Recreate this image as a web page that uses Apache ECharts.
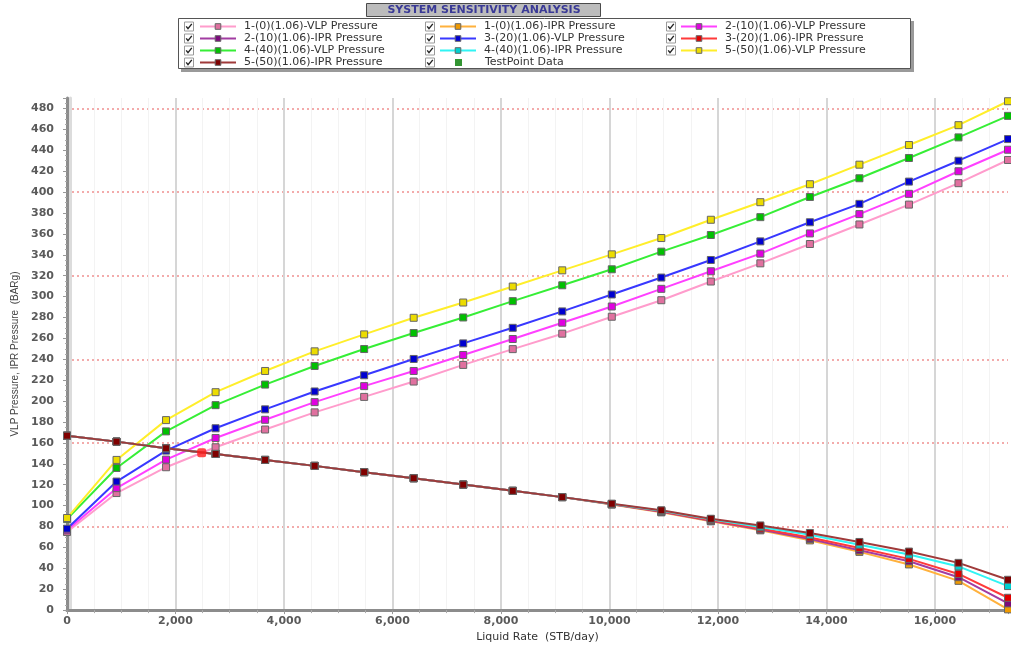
<!DOCTYPE html>
<html>
<head>
<meta charset="utf-8">
<script src="https://cdn.jsdelivr.net/npm/echarts@6/dist/echarts.min.js"></script>
<style>
html,body{margin:0;padding:0;background:#fff;}
#chart{width:1011px;height:648px;}
</style>
</head>
<body>
<div id="chart"></div>
<script>
// ---- data ----
const liquidRate = [0, 913, 1826, 2739, 3652, 4565, 5478, 6391, 7304, 8217, 9130, 10043, 10956, 11869, 12782, 13695, 14608, 15521, 16434, 17347];

const vlp1 = [74.7, 112, 136.7, 155.8, 172.8, 189.2, 204, 218.7, 234.6, 249.7, 264.5, 280.7, 296.5, 314.4, 331.8, 350.3, 369, 388, 408.5, 430.7];
const vlp2 = [76.3, 116.7, 144, 164.7, 182.1, 199, 214.3, 228.8, 244.1, 259.4, 275, 290.5, 307.4, 324.2, 341.1, 360.4, 378.9, 398.3, 419.9, 440.5];
const vlp3 = [77.9, 123, 152.6, 174, 192.1, 209.2, 224.7, 240.3, 255.2, 270.1, 285.8, 302, 318.2, 335, 352.8, 371.1, 388.7, 410, 430, 450.7];
const vlp4 = [87, 136, 171, 196.1, 215.8, 233.6, 249.8, 265.1, 280, 295.6, 310.8, 326.1, 343, 358.9, 376, 395.3, 413.2, 432.6, 452.3, 472.9];
const vlp5 = [88.1, 143.7, 181.8, 208.5, 228.8, 247.6, 263.8, 279.7, 294.3, 309.6, 325.1, 340.4, 356, 373.5, 390.3, 407.5, 426.2, 445, 464, 486.9];

const ipr1 = [166.9, 161.2, 154.8, 149.4, 143.7, 138, 132, 126.2, 120.1, 114.1, 108.1, 101, 93.5, 84.9, 76.3, 66.7, 55.7, 43.7, 28, 0.7];
const ipr2 = [166.9, 161.2, 154.8, 149.4, 143.7, 138, 132, 126.2, 120.1, 114.1, 108.1, 101.2, 94, 85.4, 77, 68, 57.2, 46.7, 31.5, 6.4];
const ipr3 = [166.9, 161.2, 154.8, 149.4, 143.7, 138, 132, 126.2, 120.1, 114.1, 108.1, 101.4, 94.5, 86, 78, 69.5, 59.5, 49, 34.6, 11.8];
const ipr4 = [166.9, 161.2, 154.8, 149.4, 143.7, 138, 132, 126.2, 120.1, 114.1, 108.1, 101.6, 95, 86.8, 79.5, 72, 62.6, 53.2, 41.8, 23];
const ipr5 = [166.9, 161.2, 154.8, 149.4, 143.7, 138, 132, 126.2, 120.1, 114.1, 108.1, 101.8, 95.5, 87.4, 81, 73.8, 65.2, 56, 45.2, 29];

const testPointData = [];
const operatingPoint = [[2483, 150.5]];

const seriesNames = [
  '1-(0)(1.06)-VLP Pressure', '1-(0)(1.06)-IPR Pressure', '2-(10)(1.06)-VLP Pressure',
  '2-(10)(1.06)-IPR Pressure', '3-(20)(1.06)-VLP Pressure', '3-(20)(1.06)-IPR Pressure',
  '4-(40)(1.06)-VLP Pressure', '4-(40)(1.06)-IPR Pressure', '5-(50)(1.06)-VLP Pressure',
  '5-(50)(1.06)-IPR Pressure'
];
const testPointName = 'TestPoint Data';
const titleText = 'SYSTEM SENSITIVITY ANALYSIS';
const xAxisName = 'Liquid Rate  (STB/day)';
const yAxisName = 'VLP Pressure, IPR Pressure  (BARg)';

// ---- styling ----
const seriesValues = [vlp1, ipr1, vlp2, ipr2, vlp3, ipr3, vlp4, ipr4, vlp5, ipr5];
const lineColors = ['#ff9ccc', '#ffb13d', '#ff40ff', '#a23ca2', '#3838ff', '#ff3a3a', '#36ee36', '#30f4f4', '#ffee2a', '#a03a3a'];
const markColors = ['#e0709f', '#f09a00', '#e000e0', '#7c0a7c', '#0000d0', '#e00000', '#00c000', '#00d0d0', '#ecdc00', '#800000'];

const FONT = 'DejaVu Sans';
const series = seriesValues.map((vals, k) => ({
  name: seriesNames[k],
  type: 'line',
  data: liquidRate.map((x, i) => [x, vals[i]]),
  symbol: 'rect',
  symbolSize: 7,
  showAllSymbol: true,
  z: 3,
  lineStyle: { color: lineColors[k], width: 2 },
  itemStyle: { color: markColors[k], borderColor: '#666', borderWidth: 1 },
  emphasis: { disabled: true },
  animation: false
}));
series.push({
  name: testPointName, type: 'scatter', data: testPointData, symbol: 'rect', symbolSize: 7,
  itemStyle: { color: '#007a00', borderColor: '#007a00' }, animation: false
});
series.push({
  name: 'op', type: 'scatter', data: operatingPoint, symbol: 'roundRect', symbolSize: 9, z: 5,
  itemStyle: { color: '#ff1a1a' }, animation: false, silent: true
});

// Legend columns
const rowTop = 20.5, rowPitch = 12;
const colIconLeft = [199, 439, 680];
const colCheck = [189, 430, 671];
const cols = [[0, 3, 6, 9], [1, 4, 7], [2, 5, 8]];
const legends = cols.map((idxs, c) => ({
  orient: 'vertical', left: colIconLeft[c], top: rowTop, padding: 0, itemGap: 0,
  itemWidth: 36, itemHeight: 7, selectedMode: false,
  itemStyle: { borderColor: '#666', borderWidth: 1 },
  data: idxs.map(i => seriesNames[i]),
  textStyle: { fontFamily: FONT, fontSize: 11, color: '#333', lineHeight: rowPitch, padding: [0, 0, 0, 3] }
}));
legends.push({
  orient: 'vertical', left: 455, top: rowTop + 3 * rowPitch, padding: 0, itemGap: 0,
  itemWidth: 7, itemHeight: 7, selectedMode: false, data: [testPointName],
  textStyle: { fontFamily: FONT, fontSize: 11, color: '#333', lineHeight: rowPitch, padding: [0, 0, 0, 18] }
});

// graphics: title box, legend frame, checkboxes
const graphics = [
  { type: 'rect', shape: { x: 181, y: 21, width: 733, height: 51 }, style: { fill: '#9a9a9a' }, z: 0 },
  { type: 'rect', shape: { x: 178.5, y: 18.5, width: 732, height: 50 }, style: { fill: '#fff', stroke: '#555', lineWidth: 1 }, z: 1 },
  { type: 'rect', shape: { x: 366.5, y: 3.5, width: 234, height: 13 }, style: { fill: '#bcbcbc', stroke: '#4a4a4a', lineWidth: 1 }, z: 1 },
  { type: 'text', x: 484, y: 10.5, style: { text: titleText, fontFamily: FONT, fontSize: 11, fontWeight: 'bold', fill: '#3a3a96', align: 'center', verticalAlign: 'middle' }, z: 2 }
];
const checkRows = [4, 4, 3];
colCheck.forEach((cx, c) => {
  for (let r = 0; r < checkRows[c]; r++) {
    const cy = rowTop + r * rowPitch + rowPitch / 2;
    graphics.push({ type: 'rect', shape: { x: cx - 4.5, y: cy - 4.5, width: 9, height: 9 }, style: { fill: '#fff', stroke: '#9a9a9a', lineWidth: 1 }, z: 2 });
    graphics.push({ type: 'polyline', shape: { points: [[cx - 2.8, cy - 0.2], [cx - 1, cy + 2.2], [cx + 2.8, cy - 2.6]] }, style: { fill: null, stroke: '#222', lineWidth: 1.4 }, z: 3 });
  }
});

const chart = echarts.init(document.getElementById('chart'), null, { renderer: 'canvas' });
chart.setOption({
  animation: false,
  backgroundColor: '#fff',
  grid: { left: 67, right: 3, top: 98, bottom: 36, containLabel: false },
  legend: legends,
  graphic: graphics,
  xAxis: {
    type: 'value', min: 0, max: 17347, interval: 2000,
    name: xAxisName, nameLocation: 'middle', nameGap: 18,
    nameTextStyle: { fontFamily: FONT, fontSize: 11, color: '#333' },
    axisLine: { lineStyle: { color: '#8c8c8c', width: 3 } },
    axisTick: { show: true, length: 4, inside: false, lineStyle: { color: '#999' } },
    minorTick: { show: true, splitNumber: 4, length: 3, lineStyle: { color: '#aaa' } },
    minorSplitLine: { show: true, lineStyle: { color: '#f3f3f3', width: 1 } },
    axisLabel: {
      fontFamily: FONT, fontSize: 11, fontWeight: 'bold', color: '#5a5a5a', margin: 6,
      showMaxLabel: false,
      formatter: v => v.toLocaleString('en-US')
    },
    splitLine: { show: true, showMinLine: false, showMaxLine: false, lineStyle: { color: '#d6d6d6', width: 2 } }
  },
  yAxis: [{
    type: 'value', min: 0, max: 490, interval: 20,
    name: yAxisName, nameLocation: 'middle', nameGap: 46, nameRotate: 90,
    nameTextStyle: { fontFamily: 'Liberation Sans', fontSize: 10, color: '#444' },
    axisLine: { show: true, lineStyle: { color: '#8c8c8c', width: 3, shadowColor: '#dcdcdc', shadowOffsetX: 3 } },
    axisTick: { show: true, length: 4, lineStyle: { color: '#999' } },
    minorTick: { show: true, splitNumber: 4, length: 2, lineStyle: { color: '#aaa' } },
    axisLabel: { fontFamily: FONT, fontSize: 11, fontWeight: 'bold', color: '#5a5a5a', margin: 13, showMaxLabel: false },
    splitLine: { show: false }
  }, {
    type: 'value', min: 0, max: 490, interval: 80, position: 'left',
    axisLine: { show: false }, axisTick: { show: false }, axisLabel: { show: false },
    splitLine: { show: true, showMaxLine: false, showMinLine: true, lineStyle: { color: '#f09090', type: [2, 3], width: 1.5 } }
  }],
  series: series
});
</script>
</body>
</html>
